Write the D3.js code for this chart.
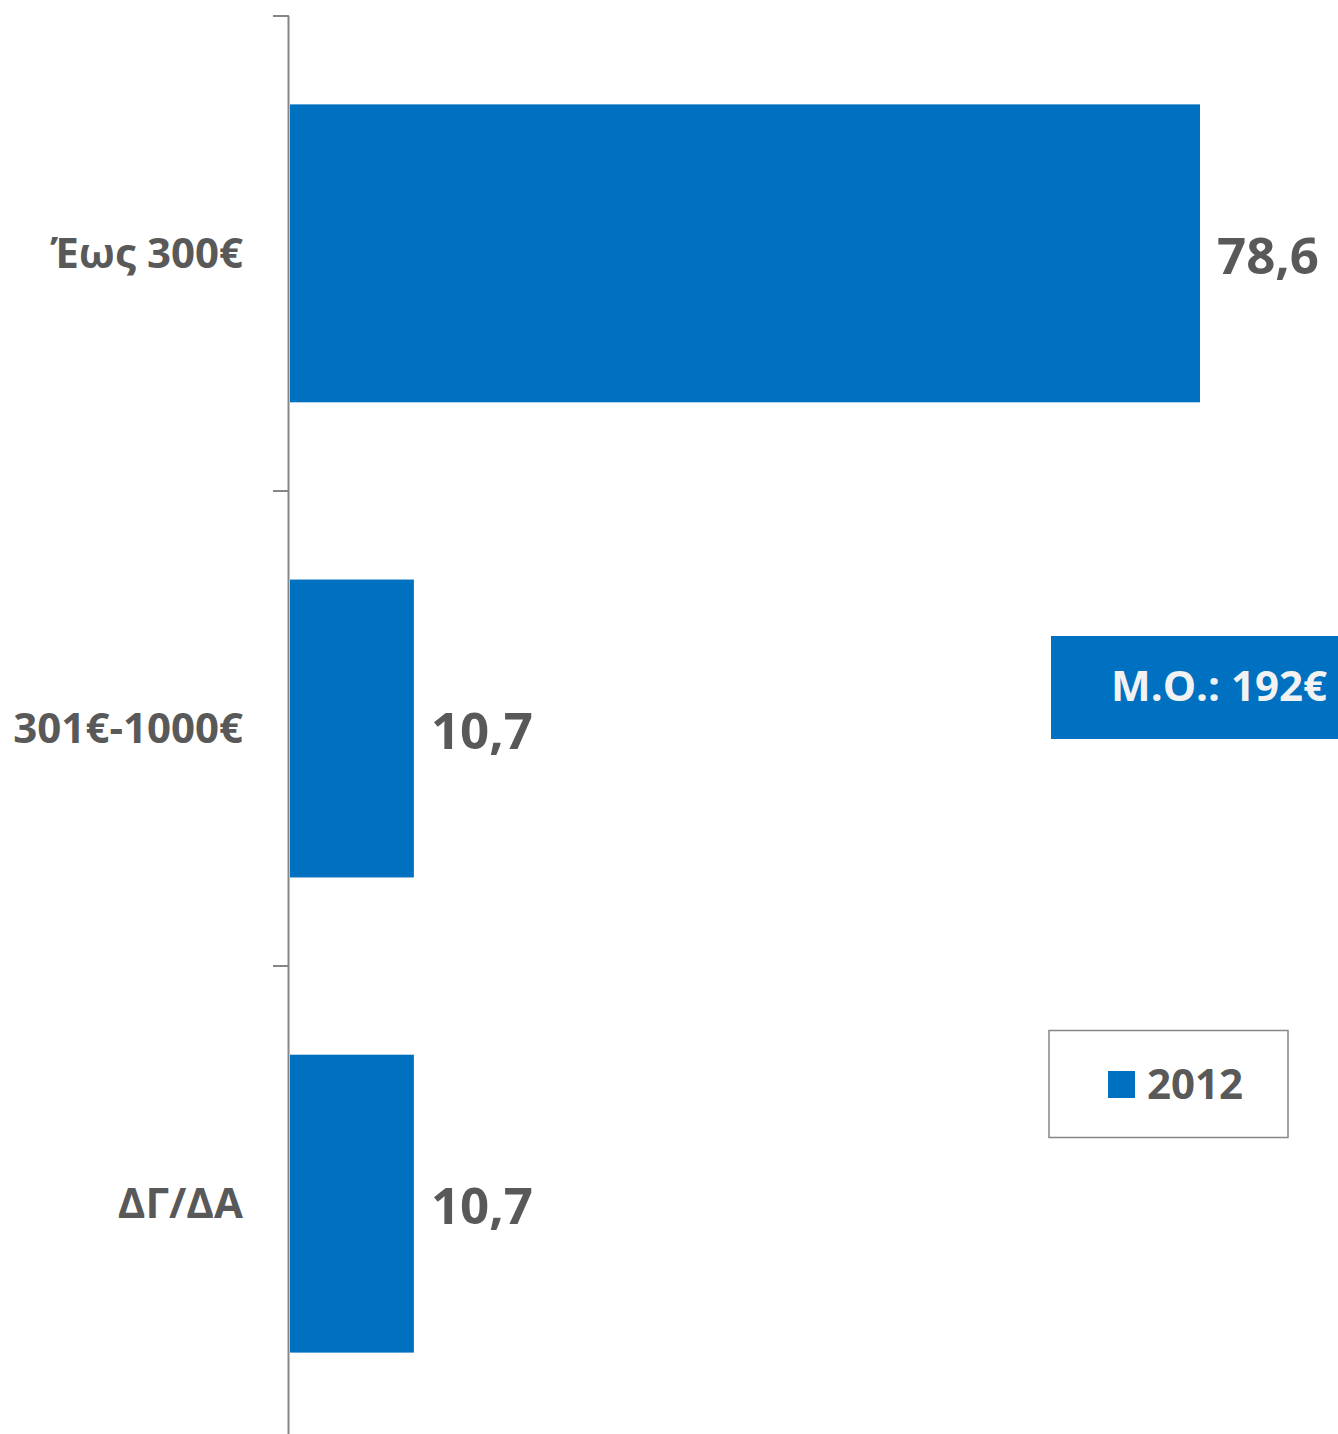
<!DOCTYPE html>
<html><head><meta charset="utf-8">
<script src="https://cdn.jsdelivr.net/npm/d3@7"></script>
<style>body{margin:0;background:#fff}svg{display:block}text{font-family:"Open Sans",sans-serif;font-weight:bold}</style>
</head><body>
<script>
const categories = ["Έως 300€", "301€-1000€", "ΔΓ/ΔΑ"];
const values2012 = [78.6, 10.7, 10.7];
const valueLabels = ["78,6", "10,7", "10,7"];
const seriesName = "2012";
const meanLabel = "Μ.Ο.: 192€";

const W = 1338, H = 1434;
const svg = d3.select("body").append("svg").attr("width", W).attr("height", H);
const blue = "#0070C0", grey = "#595959";

const x = d3.scaleLinear().domain([0, 78.6]).range([290, 1200]);
const y = d3.scaleBand().domain(categories).range([16, 1441]).paddingInner(0.373).paddingOuter(0.186);
const yTicks = d3.scaleBand().domain(categories).range([16, 1441]);

// bars
svg.selectAll("rect.bar").data(categories).enter().append("rect")
  .attr("x", x(0)).attr("y", d => y(d))
  .attr("width", (d, i) => x(values2012[i]) - x(0))
  .attr("height", y.bandwidth()).attr("fill", blue);

// axis
svg.append("line").attr("x1", 288.5).attr("x2", 288.5).attr("y1", 16).attr("y2", H).attr("stroke", "#868686").attr("stroke-width", 2);
categories.forEach(c => {
  svg.append("line").attr("x1", 273).attr("x2", 289).attr("y1", yTicks(c)).attr("y2", yTicks(c)).attr("stroke", "#868686").attr("stroke-width", 2);
});

// category labels
svg.selectAll("text.cat").data(categories).enter().append("text")
  .attr("x", 243).attr("y", d => y(d) + y.bandwidth() / 2)
  .attr("dy", "0.35em").attr("text-anchor", "end")
  .attr("font-size", 42).attr("fill", grey).text(d => d);

// value labels
svg.selectAll("text.val").data(categories).enter().append("text")
  .attr("x", (d, i) => x(values2012[i]) + 17).attr("y", d => y(d) + y.bandwidth() / 2 + 2)
  .attr("dy", "0.36em").attr("font-size", 51).attr("fill", grey)
  .text((d, i) => valueLabels[i]);

// mean box
svg.append("rect").attr("x", 1051).attr("y", 636).attr("width", 287).attr("height", 103).attr("fill", blue);
svg.append("text").attr("x", 1327).attr("y", 686).attr("dy", "0.35em").attr("text-anchor", "end")
  .attr("font-size", 42).attr("fill", "#F2F2F2").text(meanLabel);

// legend
svg.append("rect").attr("x", 1049).attr("y", 1030.5).attr("width", 239).attr("height", 107).attr("fill", "#fff").attr("stroke", "#868686").attr("stroke-width", 1.5);
svg.append("rect").attr("x", 1108).attr("y", 1071).attr("width", 27).attr("height", 27).attr("fill", blue);
svg.append("text").attr("x", 1147).attr("y", 1084).attr("dy", "0.35em").attr("font-size", 42).attr("fill", grey).text(seriesName);
</script>
</body></html>
